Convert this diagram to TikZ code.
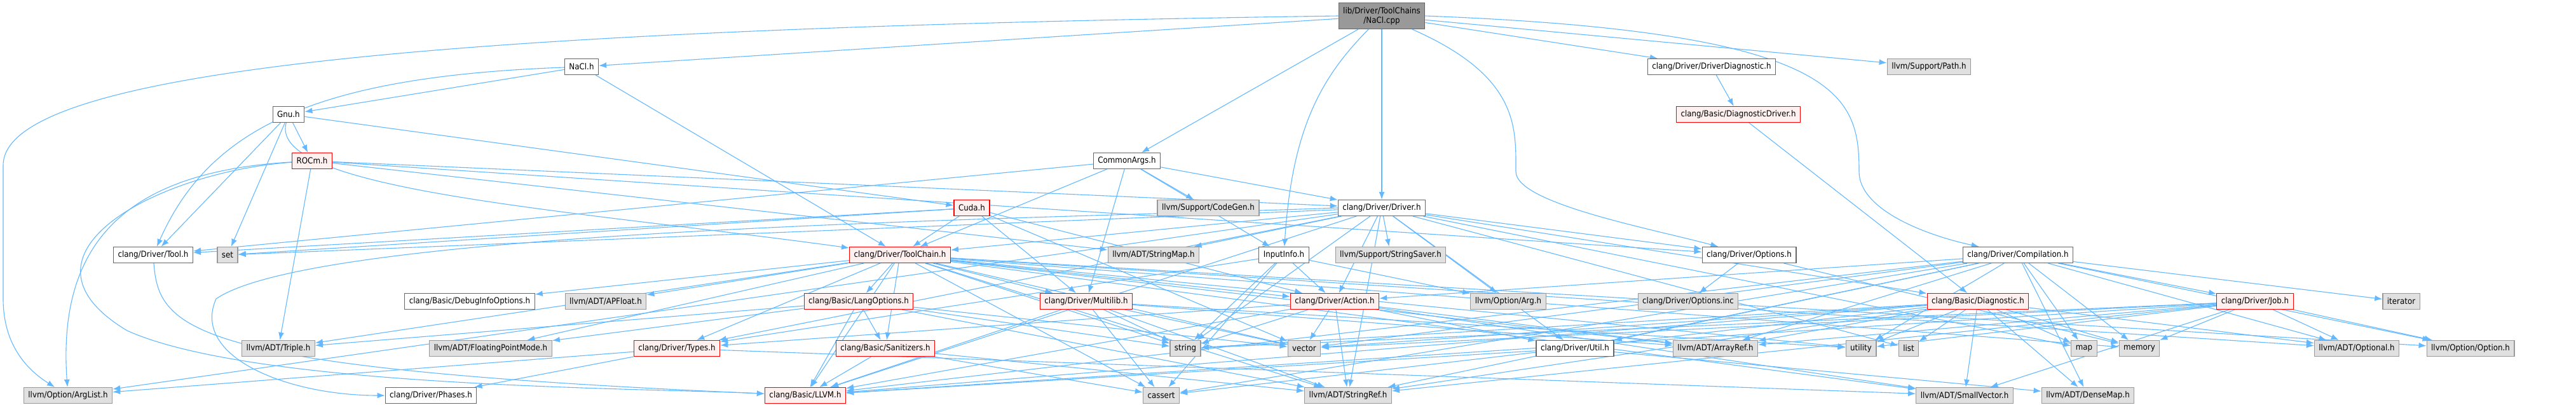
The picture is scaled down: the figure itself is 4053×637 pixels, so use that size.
\documentclass[tikz,border=0pt]{standalone}
\usepackage{fontspec}
\setmainfont{DejaVu Sans Condensed}
\usepackage{xcolor}
\usetikzlibrary{arrows.meta,backgrounds}
\definecolor{edgeblue}{HTML}{63B8FF}
\definecolor{redfill}{HTML}{FFF0F0}
\definecolor{extfill}{HTML}{E0E0E0}

\begin{document}
\begin{tikzpicture}[x=0.5pt,y=-0.5pt,
    every node/.style={draw, font=\fontsize{6.6}{7.5}\selectfont, minimum height=12.5pt, inner xsep=3.5pt, inner ysep=1pt, line width=0.6pt},
    plain/.style={draw=black!60, fill=white},
    redbox/.style={draw=red, fill=redfill},
    ext/.style={draw=black!40, fill=extfill},
    rootbox/.style={draw=black!60, fill=black!40, align=center, minimum height=20.5pt},
    dep/.style={draw=edgeblue, line width=0.55pt, -{Latex[length=6pt,width=4.5pt]}}]
  \useasboundingbox (0,0) rectangle (4053,637);

  \node[rootbox] (root) at (2174,25) {lib/Driver/ToolChains\\/NaCl.cpp};

  \node[plain] (nacl) at (915,105) {NaCl.h};
  \node[plain] (ddiag) at (2693,105) {clang/Driver/DriverDiagnostic.h};
  \node[ext] (path) at (3035,105) {llvm/Support/Path.h};

  \node[plain] (gnu) at (454,180) {Gnu.h};
  \node[redbox] (diagdrv) at (2735,180) {clang/Basic/DiagnosticDriver.h};

  \node[redbox] (rocm) at (491,253) {ROCm.h};
  \node[plain] (common) at (1773,253) {CommonArgs.h};

  \node[redbox] (cuda) at (1529,327) {Cuda.h};
  \node[ext] (codegen) at (1901,327) {llvm/Support/CodeGen.h};
  \node[plain] (driver) at (2174,327) {clang/Driver/Driver.h};

  \node[plain] (tool) at (241,401) {clang/Driver/Tool.h};
  \node[ext] (set) at (358,401) {set};
  \node[redbox] (toolchain) at (1416,401) {clang/Driver/ToolChain.h};
  \node[ext] (strmap) at (1815,401) {llvm/ADT/StringMap.h};
  \node[plain] (input) at (2020,401) {InputInfo.h};
  \node[ext] (saver) at (2188,401) {llvm/Support/StringSaver.h};
  \node[plain] (options) at (2752,401) {clang/Driver/Options.h};
  \node[plain] (compil) at (3175,401) {clang/Driver/Compilation.h};

  \node[plain] (dbginfo) at (739,474) {clang/Basic/DebugInfoOptions.h};
  \node[ext] (apfloat) at (953,474) {llvm/ADT/APFloat.h};
  \node[redbox] (langopt) at (1351,474) {clang/Basic/LangOptions.h};
  \node[redbox] (multilib) at (1709,474) {clang/Driver/Multilib.h};
  \node[redbox] (action) at (2100,474) {clang/Driver/Action.h};
  \node[ext] (arg) at (2373,474) {llvm/Option/Arg.h};
  \node[ext] (optinc) at (2656,474) {clang/Driver/Options.inc};
  \node[redbox] (diag) at (3112,474) {clang/Basic/Diagnostic.h};
  \node[redbox] (job) at (3548,474) {clang/Driver/Job.h};
  \node[ext] (iterator) at (3778,474) {iterator};

  \node[ext] (triple) at (438,548) {llvm/ADT/Triple.h};
  \node[ext] (fpmode) at (772,548) {llvm/ADT/FloatingPointMode.h};
  \node[redbox] (types) at (1065,548) {clang/Driver/Types.h};
  \node[redbox] (sanit) at (1393,548) {clang/Basic/Sanitizers.h};
  \node[ext] (string) at (1865,548) {string};
  \node[ext] (vector) at (2052,548) {vector};
  \node[plain] (util) at (2478,548) {clang/Driver/Util.h};
  \node[ext] (arrayref) at (2699,548) {llvm/ADT/ArrayRef.h};
  \node[ext] (utility) at (2928,548) {utility};
  \node[ext] (list) at (3003,548) {list};
  \node[ext] (map) at (3279,548) {map};
  \node[ext] (memory) at (3366,548) {memory};
  \node[ext] (optional) at (3708,548) {llvm/ADT/Optional.h};
  \node[ext] (option) at (3887,548) {llvm/Option/Option.h};

  \node[ext] (arglist) at (107,622) {llvm/Option/ArgList.h};
  \node[plain] (phases) at (678,622) {clang/Driver/Phases.h};
  \node[redbox] (llvm) at (1267,622) {clang/Basic/LLVM.h};
  \node[ext] (cassert) at (1827,622) {cassert};
  \node[ext] (strref) at (2121,622) {llvm/ADT/StringRef.h};
  \node[ext] (smallvec) at (3091,622) {llvm/ADT/SmallVector.h};
  \node[ext] (densemap) at (3285,622) {llvm/ADT/DenseMap.h};

  \begin{pgfonlayer}{background}
  % curved edges
  \draw[dep] (root.west) .. controls (700,45) and (5,110) .. (5,260) -- (5,470) .. controls (5,540) and (40,580) .. (arglist);
  \draw[dep] (root) .. controls (2080,120) and (2033,200) .. (input);
  \draw[dep] (root) .. controls (2390,120) and (2385,200) .. (2385,270) .. controls (2385,320) and (2600,360) .. (options);
  \draw[dep] (root.east) .. controls (2900,50) and (2925,150) .. (2925,270) .. controls (2925,330) and (3030,370) .. (compil);
  \draw[dep] (nacl) .. controls (500,120) and (330,200) .. (tool);
  \draw[dep] (gnu) .. controls (420,300) and (900,330) .. (toolchain);
  \draw[dep] (rocm) .. controls (200,270) and (90,380) .. (arglist);
  \draw[dep] (rocm) .. controls (250,270) and (0,400) .. (200,520) .. controls (400,610) and (1000,610) .. (llvm);
  \draw[dep] (tool) .. controls (250,520) and (300,580) .. (llvm);
  \draw[dep] (driver.west) .. controls (1600,345) and (500,360) .. (340,470) .. controls (300,560) and (450,622) .. (phases.west);

  % straight edges
  \foreach \a/\b in {root/nacl, root/common, root/driver, root/ddiag, root/path,
      nacl/gnu, nacl/toolchain, ddiag/diagdrv, diagdrv/diag,
      gnu/rocm, gnu/cuda, gnu/tool, gnu/set,
      rocm/triple, rocm/driver, rocm/options, rocm/strmap,
      common/toolchain, common/tool, common/multilib, common/codegen, common/input, common/driver,
      cuda/action, cuda/multilib, cuda/tool, cuda/toolchain, cuda/set, cuda/vector,
      driver/diag, driver/llvm, driver/action, driver/options, driver/toolchain,
      driver/types, driver/util, driver/strmap, driver/strref, driver/arg, driver/arglist,
      driver/saver, driver/list, driver/map, driver/string, driver/set,
      toolchain/dbginfo, toolchain/apfloat, toolchain/langopt, toolchain/sanit, toolchain/multilib,
      toolchain/action, toolchain/types, toolchain/triple, toolchain/fpmode, toolchain/llvm,
      toolchain/arrayref, toolchain/smallvec, toolchain/strref, toolchain/option, toolchain/optional,
      toolchain/cassert, toolchain/memory, toolchain/string, toolchain/utility, toolchain/vector,
      langopt/llvm, langopt/sanit, langopt/fpmode, langopt/triple, langopt/strref, langopt/string, langopt/vector,
      sanit/llvm, sanit/strref, sanit/cassert,
      multilib/llvm, multilib/arrayref, multilib/strref, multilib/cassert, multilib/string, multilib/utility, multilib/vector,
      action/llvm, action/types, action/util, action/arrayref, action/smallvec, action/strref, action/string, action/vector,
      input/action, input/types, input/arg, input/cassert, input/string,
      types/phases, types/arglist, types/smallvec,
      util/llvm, util/densemap, options/optinc, options/memory,
      compil/llvm, compil/action, compil/job, compil/util, compil/arrayref, compil/densemap, compil/optional,
      compil/strref, compil/option, compil/cassert, compil/iterator, compil/map, compil/memory, compil/utility, compil/vector,
      job/llvm, job/arrayref, job/optional, job/smallvec, job/strref, job/option, job/memory, job/string, job/utility, job/vector,
      diag/llvm, diag/arrayref, diag/densemap, diag/optional, diag/smallvec, diag/strref, diag/cassert,
      diag/list, diag/map, diag/memory, diag/string, diag/utility, diag/vector}
    \draw[dep] (\a) -- (\b);
  \end{pgfonlayer}
\end{tikzpicture}
\end{document}
